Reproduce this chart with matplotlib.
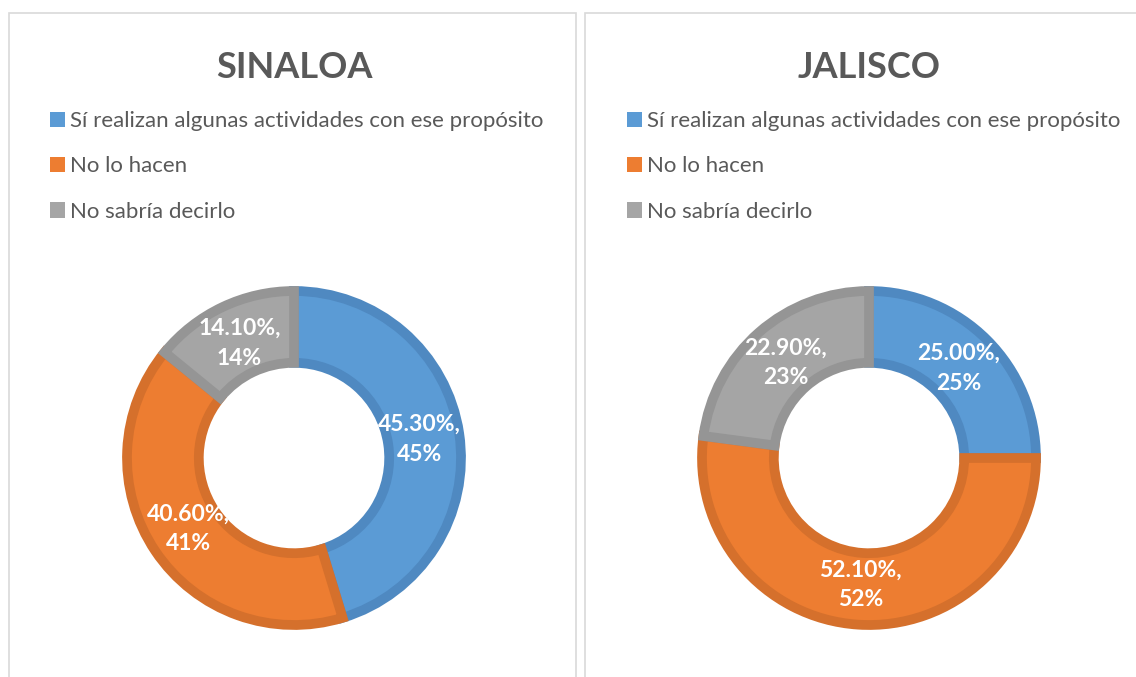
import matplotlib.pyplot as plt
from matplotlib.patches import Rectangle, Patch

# datos
categorias = ['Sí realizan algunas actividades con ese propósito',
              'No lo hacen',
              'No sabría decirlo']
estados = ['SINALOA', 'JALISCO']
sinaloa = [45.3, 40.6, 14.1]
jalisco = [25.0, 52.1, 22.9]

colores = ['#5B9BD5', '#ED7D31', '#A5A5A5']
bordes = ['#4F89C1', '#D5702C', '#959595']
gris_txt = '#595959'

plt.rcParams['font.family'] = ['Lato', 'DejaVu Sans']

W, H = 1136, 677
fig = plt.figure(figsize=(W / 100, H / 100), dpi=100)

# marcos de los dos graficos
fig.patches.append(Rectangle((8.5 / W, -0.05), 568 / W, 1.05 - 12.5 / H,
                             transform=fig.transFigure, fill=False,
                             edgecolor='#D9D9D9', lw=1.2))
fig.patches.append(Rectangle((585 / W, -0.05), 0.6, 1.05 - 12.5 / H,
                             transform=fig.transFigure, fill=False,
                             edgecolor='#D9D9D9', lw=1.2))

R = 167.0   # radio exterior en px
lim = 1.1
centros = [(294, 458), (869, 458)]
leg_x = [50, 627]

for estado, vals, (cx, cy), lx in zip(estados, [sinaloa, jalisco], centros, leg_x):
    lado = 2 * lim * R
    ax = fig.add_axes([(cx - lado / 2) / W, 1 - (cy + lado / 2) / H, lado / W, lado / H])
    wedges, _, autotexts = ax.pie(
        vals, colors=colores, startangle=90, counterclock=False, radius=1,
        autopct=lambda p: f'{p:.2f}%,\n{p:.0f}%', pctdistance=0.76,
        wedgeprops=dict(width=0.43, linewidth=7))
    for w, b in zip(wedges, bordes):
        w.set_edgecolor(b)
    for t in autotexts:
        t.set_color('white')
        t.set_fontweight('bold')
        t.set_fontsize(16.5)
        t.set_linespacing(1.5)
    ax.set_xlim(-lim, lim)
    ax.set_ylim(-lim, lim)
    ax.set_aspect('equal')
    ax.axis('off')

    fig.text(cx / W, 1 - 78.5 / H, estado, ha='center', va='baseline',
             fontsize=26, fontweight='bold', color=gris_txt)

    handles = [Patch(facecolor=c, edgecolor='none') for c in colores]
    fig.legend(handles, categorias, loc='upper left',
               bbox_to_anchor=(lx / W, 1 - 111 / H), frameon=False,
               fontsize=16, labelcolor=gris_txt, handlelength=0.68,
               handleheight=0.68, handletextpad=0.2, labelspacing=1.14,
               borderaxespad=0, borderpad=0)

fig.savefig('out.png', dpi=100)
